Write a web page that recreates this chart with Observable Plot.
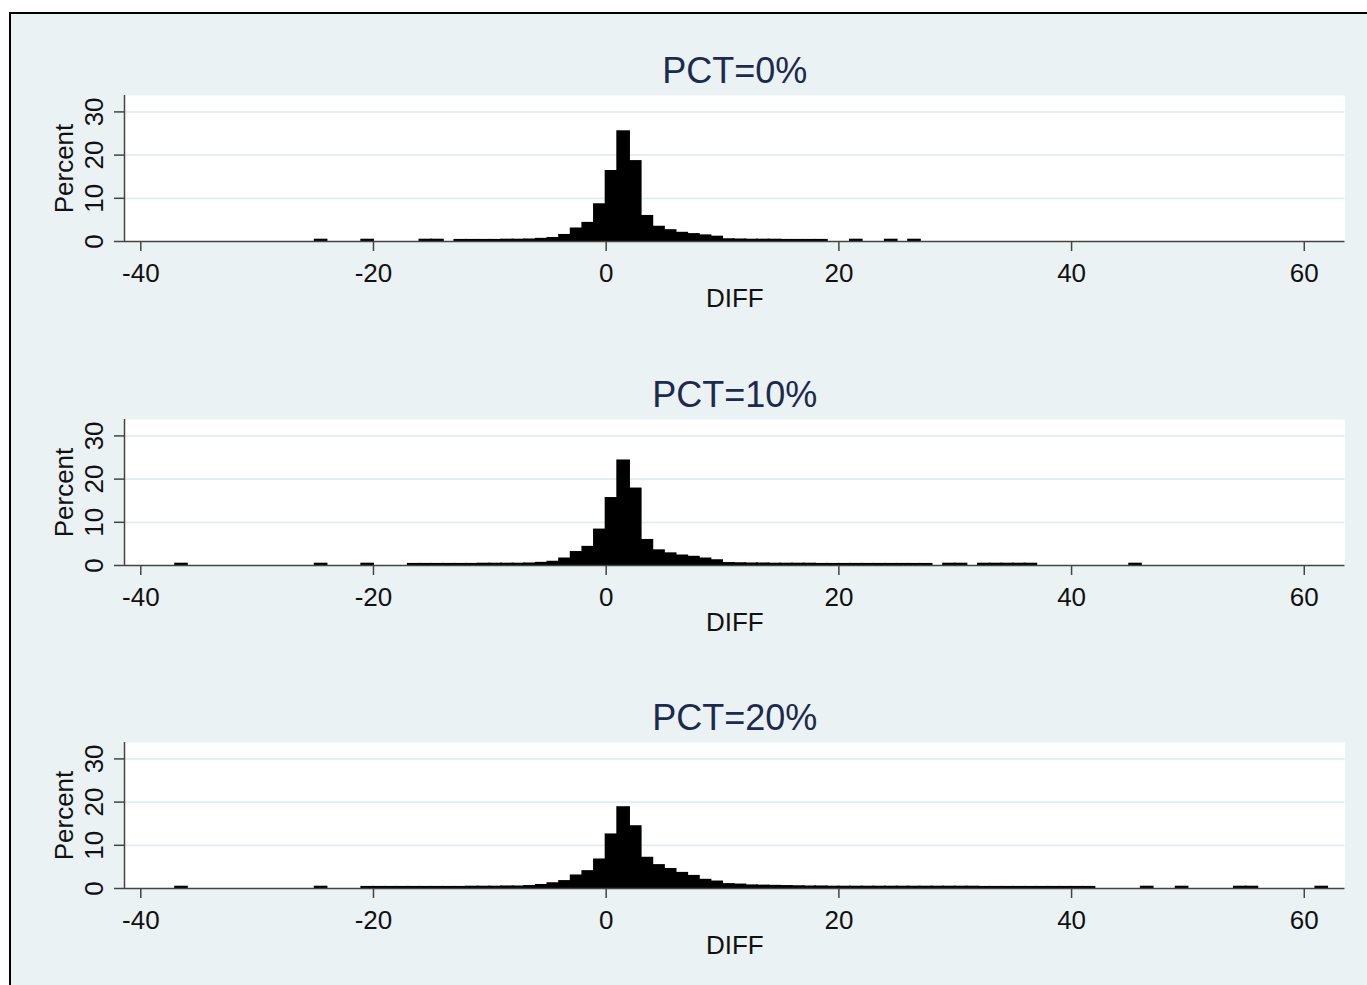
<!DOCTYPE html>
<html>
<head>
<meta charset="utf-8">
<script src="https://cdn.jsdelivr.net/npm/d3@7"></script>
<script src="https://cdn.jsdelivr.net/npm/@observablehq/plot@0.6"></script>
<style>
  html, body { margin: 0; padding: 0; background: #ffffff; overflow: hidden; }
  #page { position: relative; width: 1367px; height: 985px; }
  #frame { position: absolute; left: 9px; top: 12px; width: 1400px; height: 1000px;
           border: 2px solid #000; background: #eaf2f3; box-sizing: border-box; }
  svg { position: absolute; left: 0; }
</style>
</head>
<body>
<div id="page"><div id="frame"></div></div>
<script>
// ---- data ----
const titles = ["PCT=0%", "PCT=10%", "PCT=20%"];
const xTicks = [-40, -20, 0, 20, 40, 60];
const yTicks = [0, 10, 20, 30];
const xLabel = "DIFF";
const yLabel = "Percent";

// bin left edges (bin width 1) and percent per bin
const bins0 = [-25,-21,-16,-15,-13,-12,-11,-10,-9,-8,-7,-6,-5,-4,-3,-2,-1,0,1,2,3,4,5,6,7,8,9,10,11,12,13,14,15,16,17,18,21,24,26];
const pct0  = [0.3,0.3,0.3,0.3,0.25,0.25,0.25,0.25,0.3,0.3,0.35,0.5,0.7,1.4,2.9,4.2,8.5,16.2,25.4,18.5,5.8,3.3,2.5,1.9,1.6,1.3,1.0,0.4,0.35,0.3,0.3,0.3,0.25,0.25,0.25,0.25,0.3,0.3,0.3];

const bins1 = [-37,-25,-21,-17,-16,-15,-14,-13,-12,-11,-10,-9,-8,-7,-6,-5,-4,-3,-2,-1,0,1,2,3,4,5,6,7,8,9,10,11,12,13,14,15,16,17,18,19,20,21,22,23,24,25,26,27,29,30,32,33,34,35,36,45];
const pct1  = [0.3,0.3,0.3,0.25,0.25,0.25,0.25,0.25,0.25,0.3,0.3,0.3,0.3,0.35,0.5,0.75,1.5,3.0,4.2,8.2,15.5,24.2,17.7,5.8,3.4,2.7,2.2,1.9,1.5,1.1,0.45,0.4,0.35,0.35,0.3,0.3,0.3,0.3,0.25,0.25,0.25,0.25,0.25,0.25,0.25,0.25,0.25,0.25,0.3,0.3,0.3,0.3,0.3,0.3,0.3,0.3];

const bins2 = [-37,-25,-21,-20,-19,-18,-17,-16,-15,-14,-13,-12,-11,-10,-9,-8,-7,-6,-5,-4,-3,-2,-1,0,1,2,3,4,5,6,7,8,9,10,11,12,13,14,15,16,17,18,19,20,21,22,23,24,25,26,27,28,29,30,31,32,33,34,35,36,37,38,39,40,41,46,49,54,55,61];
const pct2  = [0.3,0.3,0.25,0.25,0.25,0.25,0.25,0.25,0.25,0.25,0.25,0.3,0.3,0.3,0.35,0.35,0.45,0.7,1.1,1.6,2.9,3.9,6.6,12.4,18.7,14.3,7.0,5.3,4.4,3.5,2.8,1.9,1.5,0.9,0.8,0.6,0.55,0.5,0.45,0.4,0.35,0.35,0.3,0.3,0.3,0.3,0.3,0.3,0.3,0.3,0.3,0.3,0.3,0.3,0.3,0.25,0.25,0.25,0.25,0.25,0.25,0.25,0.25,0.25,0.25,0.3,0.3,0.3,0.3,0.3];

const series = [[bins0, pct0], [bins1, pct1], [bins2, pct2]];

// ---- style ----
const font = "'Liberation Sans', Arial, sans-serif";
const textColor = "#111111";
const titleColor = "#1c2a4e";
const axisColor = "#444444";
const gridColor = "#e3edef";
const xDomain = [-41.4, 63.5];
const yDomain = [0, 33.8];

const page = document.getElementById("page");

series.forEach(([bins, pct], i) => {
  const data = bins.map((b, j) => ({x: b, p: pct[j]}));
  const chart = Plot.plot({
    width: 1367,
    height: 276,
    marginTop: 50,
    marginBottom: 80,
    marginLeft: 124,
    marginRight: 22.5,
    style: {fontFamily: font, background: "transparent", overflow: "visible"},
    x: {domain: xDomain},
    y: {domain: yDomain},
    marks: [
      Plot.frame({fill: "white", stroke: null}),
      Plot.ruleY(yTicks.slice(1), {stroke: gridColor, strokeWidth: 1.8}),
      Plot.rectY(data, {x1: "x", x2: d => d.x + 1, y: "p", fill: "black", stroke: "black", strokeWidth: 2}),
      Plot.ruleY([0], {stroke: axisColor, strokeWidth: 1.5}),
      Plot.ruleX([xDomain[0]], {stroke: axisColor, strokeWidth: 1.5}),
      Plot.axisX({ticks: xTicks, tickSize: 10, tickPadding: 12, fontSize: 26, label: null,
                  tickFormat: d => String(d),
                  stroke: axisColor, strokeWidth: 1.5, fill: textColor}),
      Plot.axisY({ticks: yTicks, tickSize: 10, tickFormat: () => "", label: null,
                  stroke: axisColor, strokeWidth: 1.5}),
      Plot.text(yTicks, {y: d => d, frameAnchor: "left", dx: -29.5, rotate: -90,
                         textAnchor: "middle", lineAnchor: "middle",
                         text: d => String(d), fontSize: 26, fill: textColor}),
      Plot.text([yLabel], {frameAnchor: "left", dx: -59.5, rotate: -90, text: d => d,
                           textAnchor: "middle", lineAnchor: "middle",
                           fontSize: 26, fill: textColor}),
      Plot.text([xLabel], {frameAnchor: "bottom", dy: 57, text: d => d,
                           textAnchor: "middle", lineAnchor: "middle",
                           fontSize: 26, fill: textColor}),
      Plot.text([titles[i]], {frameAnchor: "top", dy: -24, text: d => d,
                              textAnchor: "middle", lineAnchor: "middle",
                              fontSize: 36, fill: titleColor})
    ]
  });
  chart.style.top = (45 + 323.5 * i) + "px";
  page.appendChild(chart);
});
</script>
</body>
</html>
